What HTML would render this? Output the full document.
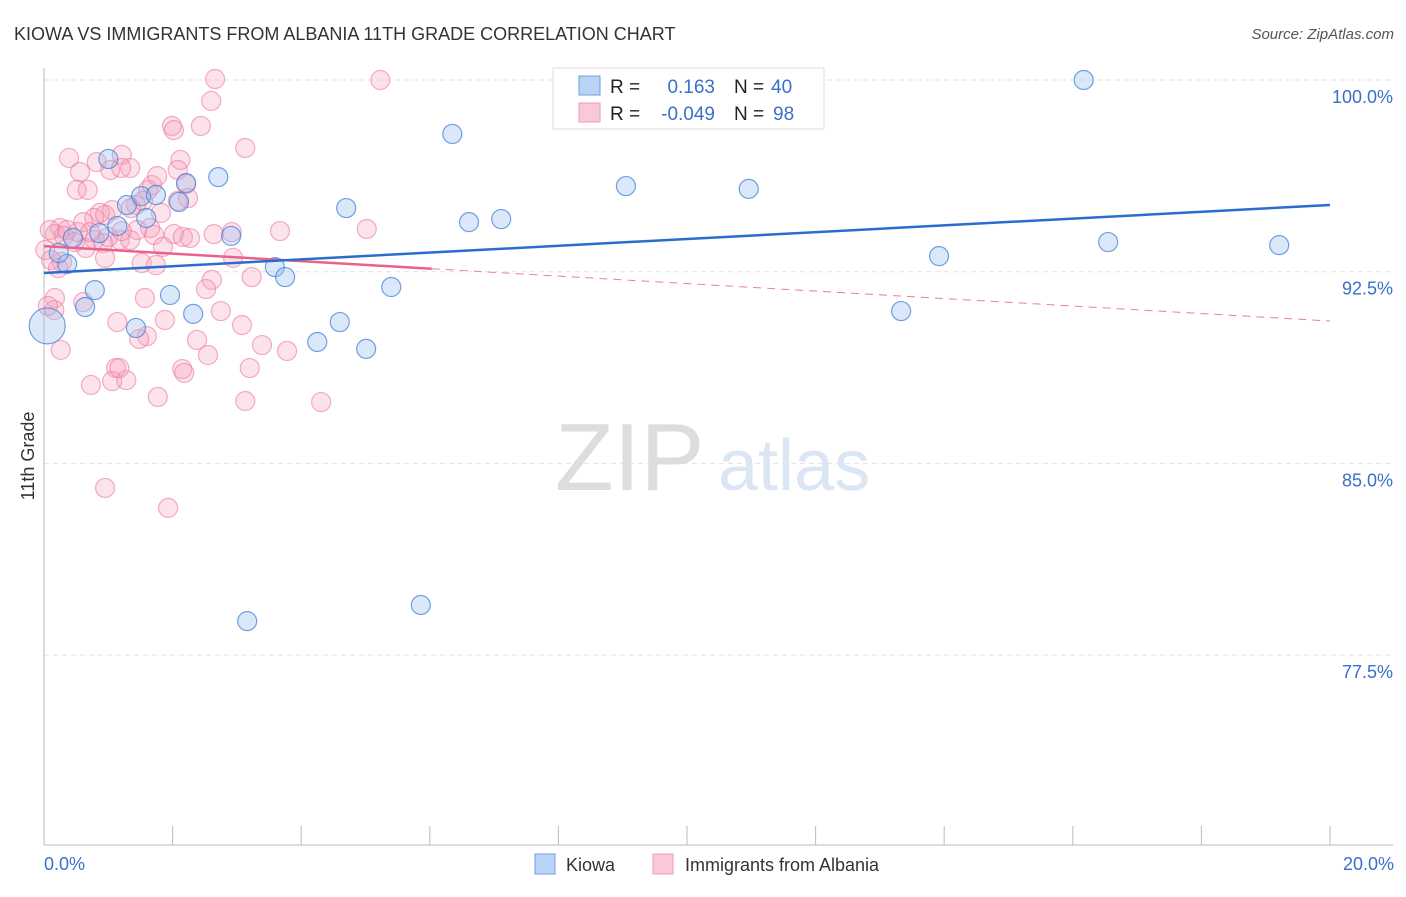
<!DOCTYPE html>
<html><head><meta charset="utf-8"><style>
body{margin:0;background:#fff;font-family:"Liberation Sans",sans-serif;}
svg text{font-family:"Liberation Sans",sans-serif;}
</style></head><body>
<svg id="chart" width="1406" height="892" xmlns="http://www.w3.org/2000/svg">
<text x="14" y="40" font-size="18" fill="#333">KIOWA VS IMMIGRANTS FROM ALBANIA 11TH GRADE CORRELATION CHART</text>
<text x="1394" y="39" font-size="15" fill="#555" font-style="italic" text-anchor="end">Source: ZipAtlas.com</text>
<g id="grid"></g>
<g>
<text x="555" y="490" font-size="96" fill="#ddd" font-family="Liberation Serif">ZIP</text>
<text x="718" y="490" font-size="72" fill="#dbe6f4">atlas</text>
</g>
<line x1="44" y1="68" x2="44" y2="845" stroke="#bbb"/>
<line x1="44" y1="845" x2="1393" y2="845" stroke="#bbb"/>
<g id="xticks"></g>
<g id="ylabels"></g>
<text x="44" y="870" font-size="18" fill="#3a70c8">0.0%</text>
<text x="1394" y="870" font-size="18" fill="#3a70c8" text-anchor="end">20.0%</text>
<text transform="translate(34,456) rotate(-90)" font-size="18" fill="#333" text-anchor="middle">11th Grade</text>
<g id="pink"></g>
<g id="blue"></g>
<g id="trends"></g>
<g>
<rect x="553" y="68" width="271" height="61" fill="#fff" stroke="#ddd"/>
<rect x="579" y="76" width="21" height="19" fill="#b8d3f5" stroke="#6e9fe0"/>
<rect x="579" y="103" width="21" height="19" fill="#f9c9d8" stroke="#f09ab6"/>
<text x="610" y="93" font-size="19" fill="#222">R =</text>
<text x="715" y="93" font-size="19" fill="#3a70c8" text-anchor="end">0.163</text>
<text x="734" y="93" font-size="19" fill="#222">N =</text>
<text x="771" y="93" font-size="19" fill="#3a70c8">40</text>
<text x="610" y="120" font-size="19" fill="#222">R =</text>
<text x="715" y="120" font-size="19" fill="#3a70c8" text-anchor="end">-0.049</text>
<text x="734" y="120" font-size="19" fill="#222">N =</text>
<text x="773" y="120" font-size="19" fill="#3a70c8">98</text>
</g>
<g>
<rect x="535" y="854" width="20" height="20" fill="#b8d3f5" stroke="#6e9fe0"/>
<text x="566" y="871" font-size="18" fill="#333">Kiowa</text>
<rect x="653" y="854" width="20" height="20" fill="#f9c9d8" stroke="#f09ab6"/>
<text x="685" y="871" font-size="18" fill="#333">Immigrants from Albania</text>
</g>
</svg>
<script>
const yTicks=[100,92.5,85,77.5];
const yTickLabels=["100.0%","92.5%","85.0%","77.5%"];
const xTicks=[0,2,4,6,8,10,12,14,16,18,20];
const kiowaX=[0.05,0.36,0.23,0.45,0.79,0.64,0.86,1.00,1.14,1.29,1.51,1.59,1.74,1.43,1.96,2.10,2.21,2.32,2.71,2.91,3.59,3.75,4.25,4.60,4.70,5.01,5.40,6.35,6.61,7.11,9.05,10.96,13.33,13.92,16.17,16.55,19.21,3.16,5.86,9.10];
const kiowaY=[90.38,92.80,93.23,93.82,91.78,91.12,94.01,96.91,94.29,95.11,95.46,94.60,95.50,90.30,91.59,95.23,95.97,90.85,96.20,93.90,92.68,92.29,89.75,90.53,94.99,89.48,91.90,97.89,94.44,94.56,95.85,95.74,90.96,93.11,100,93.66,93.54,78.83,79.46,100.08];
const albaniaX=[2.66,5.23,2.60,1.99,2.02,2.44,3.13,0.39,0.82,1.03,1.21,1.34,0.56,0.51,0.68,1.62,1.68,1.76,2.12,2.08,2.21,2.24,1.43,1.54,1.06,0.87,0.78,0.61,0.25,0.17,0.36,0.31,0.53,0.79,0.92,1.18,1.34,1.45,1.71,1.85,2.02,2.16,2.27,2.94,3.67,5.02,1.52,2.61,3.23,0.17,0.16,0.61,1.14,1.57,1.60,1.88,2.38,2.55,3.08,3.39,3.78,1.48,1.12,1.06,1.28,1.17,3.20,2.15,2.18,0.73,1.77,3.13,4.31,1.93,0.95,0.26,2.92,2.52,0.06,0.11,0.02,0.22,0.09,0.28,0.48,1.00,1.21,2.08,1.35,1.74,1.20,0.65,0.95,0.72,2.64,0.95,1.82,1.65,2.75];
const albaniaY=[100.04,100,99.18,98.20,98.04,98.20,97.34,96.95,96.79,96.48,97.07,96.56,96.40,95.70,95.70,95.70,95.89,96.24,96.87,96.48,95.93,95.38,95.11,95.27,94.91,94.80,94.60,94.44,94.21,93.97,94.13,93.90,94.05,93.74,93.62,93.74,93.74,94.13,93.94,93.47,93.97,93.86,93.82,93.04,94.09,94.17,92.84,92.18,92.29,91.47,91.00,91.31,90.53,91.47,89.98,90.61,89.83,89.24,90.41,89.63,89.40,89.87,88.73,88.22,88.26,88.73,88.73,88.69,88.54,88.07,87.60,87.44,87.40,83.26,84.04,89.44,94.05,91.82,91.16,92.96,93.35,92.64,94.13,92.88,93.66,93.86,94.09,95.27,94.99,92.76,96.56,93.43,93.04,94.05,93.97,94.72,94.80,94.21,90.96];
const kiowaTrend=[92.45,95.11];
const albaniaTrend=[93.5,90.57];
const albaniaSolidEnd=6.03;

const NS="http://www.w3.org/2000/svg";
const xs=v=>44+v/20*1286;
const ys=v=>80+(100-v)*25.56;
function mk(tag,attrs,parent){const e=document.createElementNS(NS,tag);for(const k in attrs)e.setAttribute(k,attrs[k]);parent.appendChild(e);return e;}
const grid=document.getElementById('grid'),yl=document.getElementById('ylabels');
yTicks.forEach((t,i)=>{
  const l=mk('line',{x1:44,x2:1393,y1:ys(t),y2:ys(t),stroke:'#e2e2e2','stroke-dasharray':'5,4'},grid);
  
  
  const tx=mk('text',{x:1393,y:ys(t)+23,'font-size':18,fill:'#3a70c8','text-anchor':'end'},yl);
  tx.textContent=yTickLabels[i];
  
  
});
const xt=document.getElementById('xticks');
xTicks.forEach(t=>{
  const l=mk('line',{x1:xs(t),x2:xs(t),y1:826,y2:845,stroke:'#bbb'},xt);
  
  
});
const pg=document.getElementById('pink');
albaniaX.forEach((x,i)=>{
  const c=mk('circle',{cx:xs(x),cy:ys(albaniaY[i]),r:9.5,fill:'rgba(244,160,188,0.3)',stroke:'rgba(236,120,158,0.6)','stroke-width':1.2},pg);
  
  
});
const bg=document.getElementById('blue');
kiowaX.forEach((x,i)=>{
  const c=mk('circle',{cx:xs(x),cy:ys(kiowaY[i]),r:i===0?18:9.5,fill:'rgba(150,190,240,0.35)',stroke:'rgba(70,130,215,0.75)','stroke-width':1.2},bg);
  
  
});
const tg=document.getElementById('trends');
const pMid=albaniaTrend[0]+(albaniaTrend[1]-albaniaTrend[0])*albaniaSolidEnd/20;
let l=mk('line',{x1:xs(albaniaSolidEnd),y1:ys(pMid),x2:xs(20),y2:ys(albaniaTrend[1]),stroke:'#e87fa0','stroke-width':1,'stroke-dasharray':'8,6'},tg);


l=mk('line',{x1:xs(0),y1:ys(albaniaTrend[0]),x2:xs(albaniaSolidEnd),y2:ys(pMid),stroke:'#e8628c','stroke-width':2.5},tg);


l=mk('line',{x1:xs(0),y1:ys(kiowaTrend[0]),x2:xs(20),y2:ys(kiowaTrend[1]),stroke:'#2a6dd0','stroke-width':2.5},tg);


</script>
</body></html>
